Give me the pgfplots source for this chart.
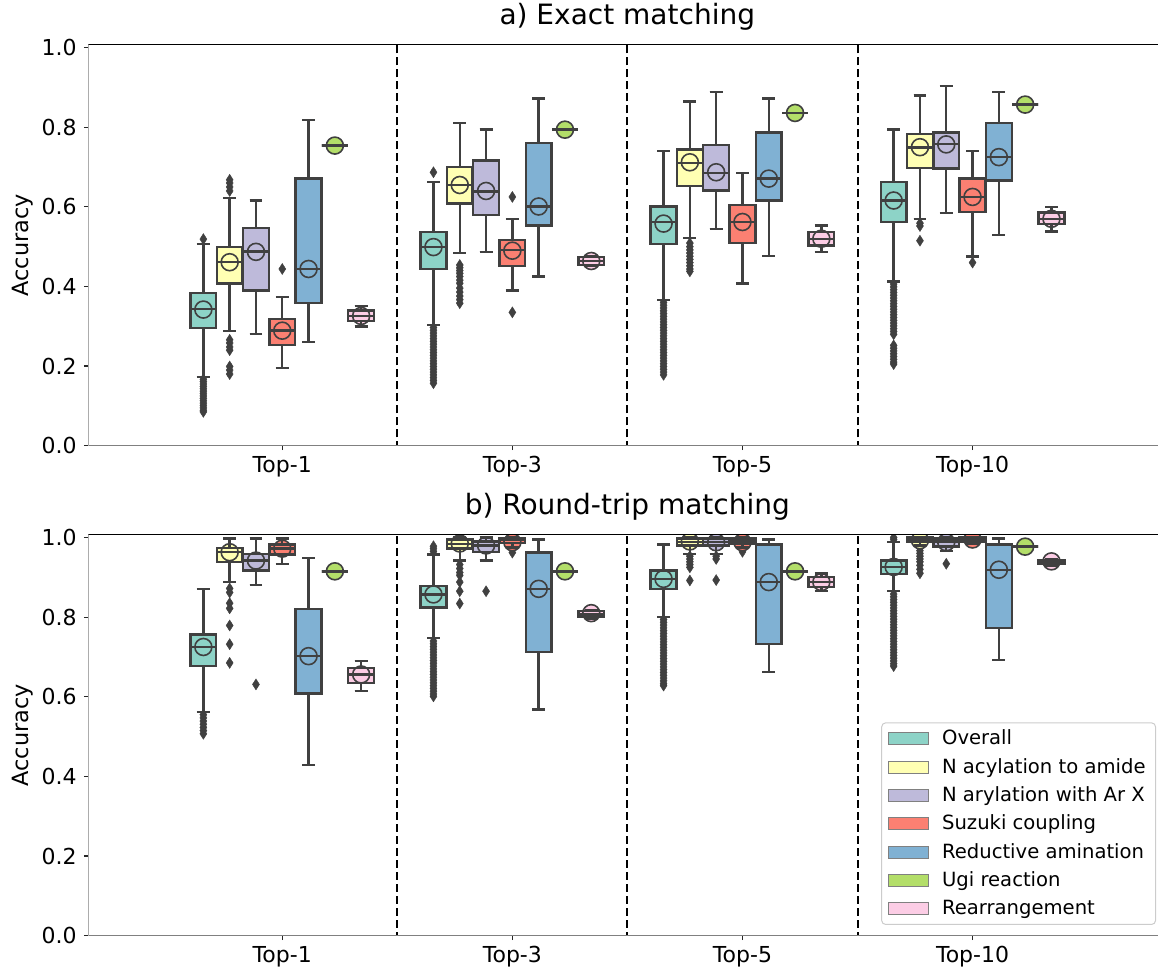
\documentclass[border=0pt]{standalone}
\usepackage{pgfplots}
\pgfplotsset{compat=1.18}
\usepgfplotslibrary{statistics}
\usepackage{fontspec}
\setmainfont{DejaVu Sans}
\definecolor{c1}{HTML}{8DD3C7}
\definecolor{c2}{HTML}{FFFFB3}
\definecolor{c3}{HTML}{BEBADA}
\definecolor{c4}{HTML}{FB8072}
\definecolor{c5}{HTML}{80B1D3}
\definecolor{c6}{HTML}{B3DE69}
\definecolor{c7}{HTML}{FCCDE5}
\definecolor{lineGray}{HTML}{404040}
\pgfplotsset{
 bxs/.style={forget plot, draw=lineGray, line width=1.2pt, mark=diamond*, mark size=2.75pt,
   mark options={fill=lineGray, draw=lineGray, line width=0.2pt, xscale=0.85, solid},
   boxplot/draw direction=y, boxplot/box extend=0.112, boxplot/whisker extend=0.056},
 mns/.style={forget plot, only marks, mark=*, mark size=4.25pt},
 panel/.style={scale only axis, width=539pt, height=200.5pt,
   xmin=-0.843, xmax=3.842, ymin=0,
   xtick={0,1,2,3}, xticklabels={Top-1,Top-3,Top-5,Top-10},
   ytick={0,0.2,0.4,0.6,0.8,1.0}, yticklabels={0.0,0.2,0.4,0.6,0.8,1.0},
   tick align=outside, tick pos=left, major tick length=2.2pt,
   tick style={line width=0.6pt, black!85},
   axis line style={draw=none},
   tick label style={font=\fontsize{11}{13}\selectfont},
   xticklabel style={inner sep=0pt, anchor=north, yshift=-2.8pt},
   yticklabel style={inner sep=0pt, anchor=east, xshift=-3.4pt},
   ylabel={Accuracy},
   ylabel style={at={(axis description cs:-0.0606,0.5)}, anchor=center, inner sep=0pt, font=\fontsize{11.2}{13}\selectfont},
   title style={at={(axis description cs:0.5,1)}, anchor=base, yshift=4pt, inner sep=0pt, font=\fontsize{14}{16}\selectfont},
   clip marker paths=true,
 }
}
\newcommand{\bx}[9]{%
 \addplot[bxs, fill=#2, boxplot prepared={draw position=#1, lower whisker=#3, lower quartile=#4, median=#5, upper quartile=#6, upper whisker=#7}] coordinates {#9};
 \addplot[mns, mark options={fill=#2, draw=lineGray, line width=0.8pt}] coordinates {(#1,#8)};
 \addplot[bxs, fill=none, boxplot prepared={draw position=#1, lower whisker=#3, lower quartile=#4, median=#5, upper quartile=#6, upper whisker=#7}] coordinates {};
}
\newcommand{\seps}{%
 \addplot[forget plot, black, line width=1pt, dash pattern=on 4pt off 2pt] coordinates {(0.5,-0.1) (0.5,1.1)};
 \addplot[forget plot, black, line width=1pt, dash pattern=on 4pt off 2pt] coordinates {(1.5,-0.1) (1.5,1.1)};
 \addplot[forget plot, black, line width=1pt, dash pattern=on 4pt off 2pt] coordinates {(2.5,-0.1) (2.5,1.1)};
}
\newcommand{\spines}{%
 \draw[black!50, line width=0.7pt] (rel axis cs:0,1) -- (rel axis cs:0,0) -- (rel axis cs:0.9923,0);
 \draw[black, line width=0.5pt] (rel axis cs:0,1) -- (rel axis cs:0.9923,1);
}
\begin{document}
\begin{tikzpicture}
% ---------------- top panel ----------------
\begin{axis}[panel, at={(0,245pt)}, anchor=south west, ymax=1.0075, title={a) Exact matching}]
\seps
% Top-1
\bx{-0.3429}{c1}{0.172}{0.295}{0.344}{0.383}{0.507}{0.342}{(0,0.519) (0,0.167) (0,0.161) (0,0.155) (0,0.149) (0,0.143) (0,0.137) (0,0.131) (0,0.125) (0,0.119) (0,0.113) (0,0.107) (0,0.101) (0,0.095) (0,0.089) (0,0.085)}
\bx{-0.2286}{c2}{0.288}{0.407}{0.461}{0.499}{0.623}{0.461}{(0,0.640) (0,0.650) (0,0.660) (0,0.668) (0,0.266) (0,0.258) (0,0.248) (0,0.240) (0,0.199) (0,0.190) (0,0.180)}
\bx{-0.1143}{c3}{0.280}{0.390}{0.488}{0.547}{0.616}{0.487}{}
\bx{0}{c4}{0.195}{0.253}{0.289}{0.319}{0.373}{0.289}{(0,0.444)}
\bx{0.1143}{c5}{0.261}{0.358}{0.444}{0.671}{0.819}{0.444}{}
\bx{0.2286}{c6}{0.754}{0.754}{0.754}{0.754}{0.754}{0.754}{}
\bx{0.3429}{c7}{0.299}{0.313}{0.326}{0.340}{0.351}{0.326}{}
% Top-3
\bx{0.6571}{c1}{0.303}{0.444}{0.499}{0.537}{0.662}{0.499}{(0,0.687) (0,0.297) (0,0.290) (0,0.283) (0,0.276) (0,0.269) (0,0.262) (0,0.255) (0,0.248) (0,0.241) (0,0.234) (0,0.227) (0,0.220) (0,0.213) (0,0.206) (0,0.199) (0,0.192) (0,0.185) (0,0.178) (0,0.171) (0,0.164) (0,0.157)}
\bx{0.7714}{c2}{0.484}{0.608}{0.655}{0.700}{0.811}{0.655}{(0,0.454) (0,0.447) (0,0.440) (0,0.433) (0,0.425) (0,0.416) (0,0.408) (0,0.396) (0,0.386) (0,0.376) (0,0.367) (0,0.358)}
\bx{0.8857}{c3}{0.487}{0.579}{0.639}{0.717}{0.794}{0.640}{}
\bx{1}{c4}{0.390}{0.452}{0.492}{0.517}{0.569}{0.490}{(0,0.625) (0,0.335)}
\bx{1.1143}{c5}{0.425}{0.553}{0.601}{0.760}{0.872}{0.601}{}
\bx{1.2286}{c6}{0.794}{0.794}{0.794}{0.794}{0.794}{0.794}{}
\bx{1.3429}{c7}{0.452}{0.454}{0.464}{0.474}{0.476}{0.464}{}
% Top-5
\bx{1.6571}{c1}{0.366}{0.506}{0.562}{0.601}{0.741}{0.558}{(0,0.360) (0,0.353) (0,0.346) (0,0.339) (0,0.332) (0,0.325) (0,0.318) (0,0.311) (0,0.304) (0,0.297) (0,0.290) (0,0.283) (0,0.276) (0,0.269) (0,0.262) (0,0.255) (0,0.248) (0,0.241) (0,0.234) (0,0.227) (0,0.220) (0,0.213) (0,0.206) (0,0.199) (0,0.192) (0,0.185) (0,0.178)}
\bx{1.7714}{c2}{0.522}{0.653}{0.710}{0.744}{0.865}{0.712}{(0,0.509) (0,0.500) (0,0.492) (0,0.484) (0,0.476) (0,0.468) (0,0.460) (0,0.452) (0,0.444) (0,0.438)}
\bx{1.8857}{c3}{0.545}{0.641}{0.685}{0.756}{0.889}{0.687}{}
\bx{2}{c4}{0.407}{0.510}{0.562}{0.604}{0.685}{0.562}{}
\bx{2.1143}{c5}{0.477}{0.616}{0.671}{0.787}{0.872}{0.671}{}
\bx{2.2286}{c6}{0.836}{0.836}{0.836}{0.836}{0.836}{0.836}{}
\bx{2.3429}{c7}{0.486}{0.503}{0.520}{0.537}{0.553}{0.520}{}
% Top-10
\bx{2.6571}{c1}{0.413}{0.562}{0.616}{0.662}{0.794}{0.616}{(0,0.406) (0,0.399) (0,0.392) (0,0.385) (0,0.378) (0,0.371) (0,0.364) (0,0.357) (0,0.350) (0,0.343) (0,0.336) (0,0.329) (0,0.322) (0,0.315) (0,0.308) (0,0.301) (0,0.294) (0,0.287) (0,0.280) (0,0.252) (0,0.245) (0,0.238) (0,0.231) (0,0.224) (0,0.217) (0,0.210) (0,0.205)}
\bx{2.7714}{c2}{0.569}{0.697}{0.749}{0.783}{0.880}{0.750}{(0,0.559) (0,0.552) (0,0.515)}
\bx{2.8857}{c3}{0.584}{0.696}{0.758}{0.787}{0.904}{0.757}{}
\bx{3}{c4}{0.475}{0.587}{0.625}{0.671}{0.741}{0.625}{(0,0.460)}
\bx{3.1143}{c5}{0.530}{0.666}{0.725}{0.811}{0.889}{0.725}{}
\bx{3.2286}{c6}{0.857}{0.857}{0.857}{0.857}{0.857}{0.857}{}
\bx{3.3429}{c7}{0.538}{0.557}{0.570}{0.586}{0.599}{0.570}{}
\spines
\end{axis}
% ---------------- bottom panel ----------------
\begin{axis}[panel, at={(0,0)}, anchor=south west, ymax=1.007, title={b) Round-trip matching},
  legend style={at={(0.9905,0.0267)}, anchor=south east, draw=black!20, line width=0.5pt, rounded corners=2pt,
    fill=white, font=\fontsize{9.8}{11}\selectfont, inner xsep=3pt, inner ysep=1.5pt, row sep=1.25pt,
    /tikz/every odd column/.append style={column sep=4.7pt}},
  legend cell align=left,
  legend image code/.code={\draw[#1, sharp corners, line width=0.5pt] (0pt,-3pt) rectangle (20pt,3pt);}]
\seps
% Top-1
\bx{-0.3429}{c1}{0.561}{0.677}{0.725}{0.756}{0.871}{0.725}{(0,0.555) (0,0.547) (0,0.539) (0,0.531) (0,0.523) (0,0.515) (0,0.507)}
\bx{-0.2286}{c2}{0.888}{0.938}{0.963}{0.973}{0.997}{0.963}{(0,0.872) (0,0.862) (0,0.835) (0,0.822) (0,0.779) (0,0.732) (0,0.685)}
\bx{-0.1143}{c3}{0.880}{0.917}{0.942}{0.959}{0.997}{0.942}{(0,0.631)}
\bx{0}{c4}{0.934}{0.957}{0.972}{0.982}{0.997}{0.972}{}
\bx{0.1143}{c5}{0.428}{0.608}{0.702}{0.821}{0.949}{0.702}{}
\bx{0.2286}{c6}{0.915}{0.915}{0.915}{0.915}{0.915}{0.915}{}
\bx{0.3429}{c7}{0.615}{0.635}{0.656}{0.672}{0.690}{0.656}{}
% Top-3
\bx{0.6571}{c1}{0.747}{0.824}{0.857}{0.878}{0.957}{0.857}{(0,0.965) (0,0.972) (0,0.978) (0,0.740) (0,0.733) (0,0.726) (0,0.719) (0,0.712) (0,0.705) (0,0.698) (0,0.691) (0,0.684) (0,0.677) (0,0.670) (0,0.663) (0,0.656) (0,0.649) (0,0.642) (0,0.635) (0,0.628) (0,0.621) (0,0.614) (0,0.607) (0,0.601)}
\bx{0.7714}{c2}{0.942}{0.972}{0.984}{0.995}{1.0}{0.985}{(0,0.932) (0,0.922) (0,0.912) (0,0.905) (0,0.888) (0,0.865) (0,0.834)}
\bx{0.8857}{c3}{0.942}{0.963}{0.980}{0.990}{1.0}{0.980}{(0,0.865)}
\bx{1}{c4}{0.975}{0.986}{0.994}{0.997}{1.0}{0.988}{(0,0.962)}
\bx{1.1143}{c5}{0.568}{0.712}{0.871}{0.962}{0.995}{0.871}{}
\bx{1.2286}{c6}{0.915}{0.915}{0.915}{0.915}{0.915}{0.915}{}
\bx{1.3429}{c7}{0.797}{0.800}{0.807}{0.815}{0.818}{0.810}{}
% Top-5
\bx{1.6571}{c1}{0.800}{0.871}{0.896}{0.917}{0.982}{0.896}{(0,0.794) (0,0.787) (0,0.780) (0,0.773) (0,0.766) (0,0.759) (0,0.752) (0,0.745) (0,0.738) (0,0.731) (0,0.724) (0,0.717) (0,0.710) (0,0.703) (0,0.696) (0,0.689) (0,0.682) (0,0.675) (0,0.668) (0,0.661) (0,0.654) (0,0.647) (0,0.640) (0,0.633) (0,0.628)}
\bx{1.7714}{c2}{0.959}{0.980}{0.988}{0.997}{1.0}{0.990}{(0,0.953) (0,0.946) (0,0.939) (0,0.932) (0,0.925) (0,0.892)}
\bx{1.8857}{c3}{0.959}{0.980}{0.988}{0.997}{1.0}{0.988}{(0,0.953) (0,0.946) (0,0.893)}
\bx{2}{c4}{0.975}{0.985}{0.992}{0.997}{1.0}{0.988}{(0,0.964)}
\bx{2.1143}{c5}{0.662}{0.732}{0.888}{0.982}{0.995}{0.888}{}
\bx{2.2286}{c6}{0.915}{0.915}{0.915}{0.915}{0.915}{0.915}{}
\bx{2.3429}{c7}{0.865}{0.876}{0.888}{0.901}{0.910}{0.888}{}
% Top-10
\bx{2.6571}{c1}{0.865}{0.909}{0.926}{0.942}{0.988}{0.926}{(0,0.995) (0,1.0) (0,0.858) (0,0.851) (0,0.844) (0,0.837) (0,0.830) (0,0.823) (0,0.816) (0,0.809) (0,0.802) (0,0.795) (0,0.788) (0,0.781) (0,0.774) (0,0.767) (0,0.760) (0,0.753) (0,0.746) (0,0.739) (0,0.732) (0,0.725) (0,0.718) (0,0.711) (0,0.704) (0,0.697) (0,0.690) (0,0.683) (0,0.677)}
\bx{2.7714}{c2}{0.980}{0.990}{0.995}{1.0}{1.0}{0.993}{(0,0.974) (0,0.967) (0,0.960) (0,0.953) (0,0.946) (0,0.939) (0,0.930) (0,0.920) (0,0.910)}
\bx{2.8857}{c3}{0.966}{0.977}{0.990}{0.997}{1.0}{0.988}{(0,0.934)}
\bx{3}{c4}{0.985}{0.990}{0.997}{1.0}{1.0}{0.995}{}
\bx{3.1143}{c5}{0.693}{0.773}{0.919}{0.982}{0.997}{0.919}{}
\bx{3.2286}{c6}{0.977}{0.977}{0.977}{0.977}{0.977}{0.977}{}
\bx{3.3429}{c7}{0.930}{0.933}{0.940}{0.944}{0.946}{0.940}{}
\spines
\addlegendimage{fill=c1, draw=black!50}\addlegendentry{Overall}
\addlegendimage{fill=c2, draw=black!50}\addlegendentry{N acylation to amide}
\addlegendimage{fill=c3, draw=black!50}\addlegendentry{N arylation with Ar X}
\addlegendimage{fill=c4, draw=black!50}\addlegendentry{Suzuki coupling}
\addlegendimage{fill=c5, draw=black!50}\addlegendentry{Reductive amination}
\addlegendimage{fill=c6, draw=black!50}\addlegendentry{Ugi reaction}
\addlegendimage{fill=c7, draw=black!50}\addlegendentry{Rearrangement}
\end{axis}
\pgfresetboundingbox
\path[use as bounding box] (-44.15pt,-16.65pt) rectangle (534.85pt,467.85pt);
\end{tikzpicture}
\end{document}
